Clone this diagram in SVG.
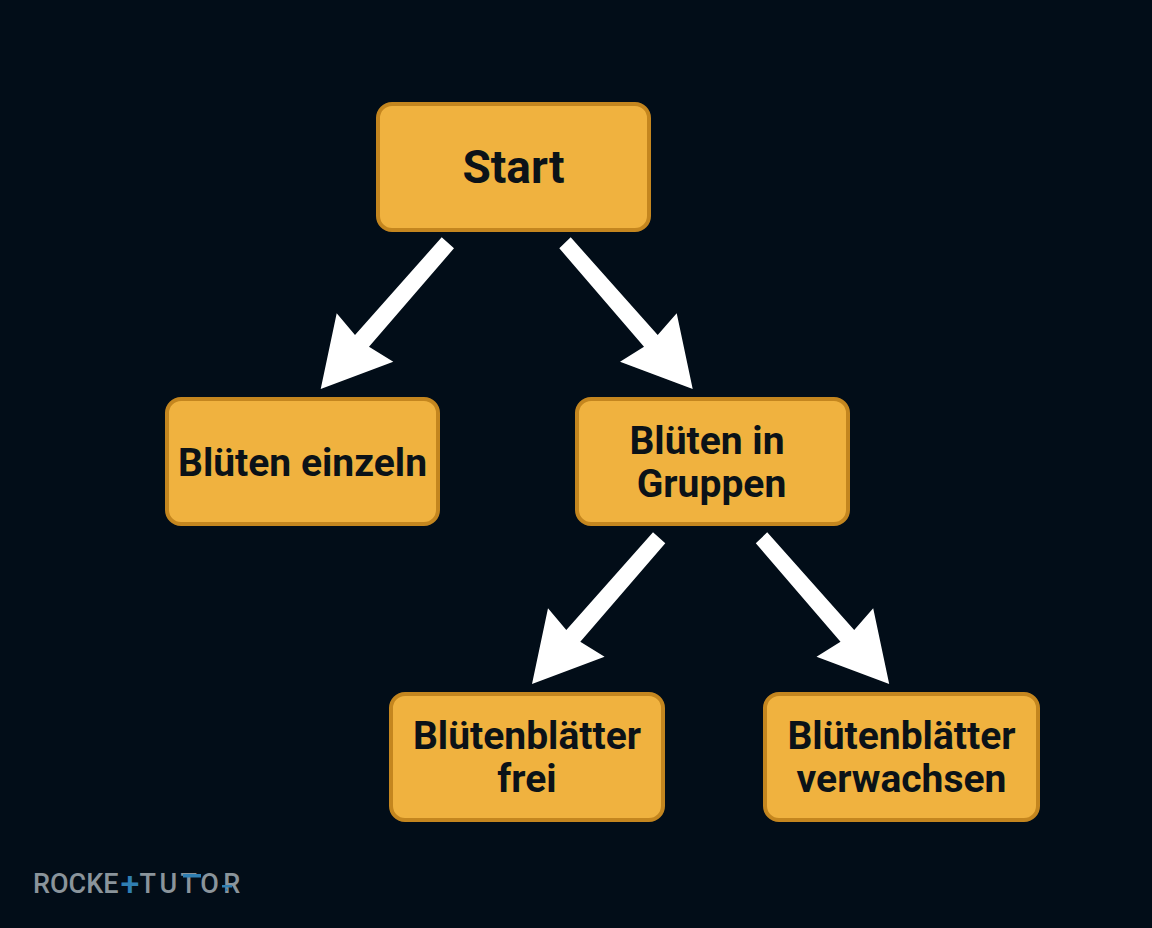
<svg xmlns="http://www.w3.org/2000/svg" width="1152" height="928" viewBox="0 0 1152 928">
<style>
.box{fill:#f0b23f;stroke:#c4861f;stroke-width:4}
.t{font-family:Roboto,"Liberation Sans",sans-serif;font-weight:700;fill:#0b1218;text-anchor:middle;font-size:39px}
.s{font-size:46px}
.arrow{fill:#fff}
.wm{font-family:Roboto,"Liberation Sans",sans-serif;font-size:27px;font-weight:500;fill:#8a949b}
.wp{font-size:34px;font-weight:500;fill:#2f7fb3}
.wb{fill:#2f7fb3}
</style>
<defs>
<polygon id="al" points="441.7,237.3 454,248.3 369,346.7 393.3,361.7 320.7,389 336.7,313.3 355,335"/>
<polygon id="ar" points="570.7,237.3 559.3,248.3 644,346.7 620,361.7 692.7,389 676.7,313.3 657.7,335"/>
</defs>
<rect width="1152" height="928" fill="#020d18"/>
<g id="connectors" class="arrow">
<use href="#al"/>
<use href="#ar"/>
<use href="#al" x="211.3" y="295"/>
<use href="#ar" x="196.5" y="295"/>
</g>
<g id="start"><rect class="box" x="378" y="104" width="271" height="126" rx="14"/><text class="t s" x="513.5" y="182.5">Start</text></g>
<g id="einzeln"><rect class="box" x="167" y="399" width="271" height="125" rx="14"/><text class="t" x="302.5" y="475.5" textLength="249">Blüten einzeln</text></g>
<g id="gruppen"><rect class="box" x="577" y="399" width="271" height="125" rx="14"/><text class="t" x="707" y="454">Blüten in</text><text class="t" x="711.5" y="497">Gruppen</text></g>
<g id="frei"><rect class="box" x="391" y="694" width="272" height="126" rx="14"/><text class="t" x="527" y="749">Blütenblätter</text><text class="t" x="527" y="792">frei</text></g>
<g id="verwachsen"><rect class="box" x="765" y="694" width="273" height="126" rx="14"/><text class="t" x="901.5" y="749">Blütenblätter</text><text class="t" x="901.5" y="792">verwachsen</text></g>
<g id="watermark">
<text class="wm" x="33" y="893">ROCKE<tspan class="wp" dx="2" dy="2">+</tspan><tspan dx="0" dy="-2" letter-spacing="3.5">TUTO</tspan><tspan dx="1">R</tspan></text>
<rect class="wb" x="183" y="874" width="18" height="3.5"/>
<rect class="wb" x="222" y="885" width="10" height="2.5"/>
<rect class="wb" x="225" y="888.5" width="2.5" height="2.5"/>
</g>
</svg>
